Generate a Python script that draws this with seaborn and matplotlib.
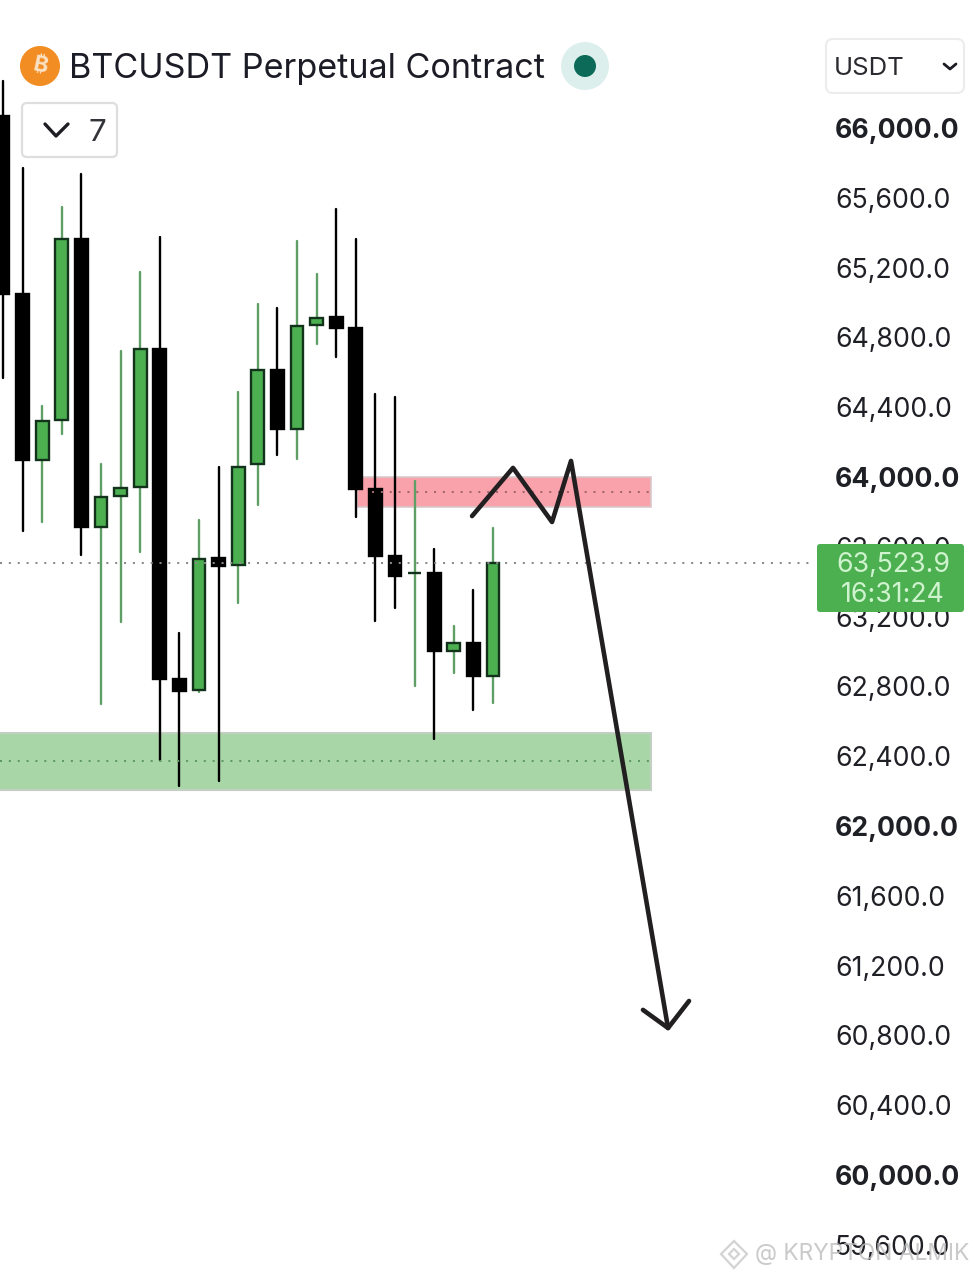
import matplotlib
matplotlib.use("Agg")
import matplotlib.pyplot as plt
from matplotlib.patches import Circle, FancyBboxPatch, Polygon
import pandas as pd
import seaborn as sns

# candles
open_ = [66069, 65049, 64097, 64327, 65364, 63713, 63891, 63943, 64734, 62842, 62779, 63536, 63496,
         64075, 64613, 64275, 64871, 64917, 64854, 63931, 63547, 63447, 63450, 63003, 63049, 62860]
close = [65049, 64097, 64321, 65364, 63713, 63885, 63937, 64734, 62842, 62774, 63530, 63490, 64057,
         64613, 64275, 64865, 64911, 64854, 63931, 63547, 63433, 63450, 63003, 63049, 62860, 63507]
high = [66269, 65771, 64407, 65547, 65736, 64075, 64722, 65175, 65375, 63106, 63754, 64057, 64487,
        64991, 64968, 65352, 65163, 65536, 65364, 64476, 64458, 63977, 63587, 63146, 63352, 63708]
low = [64567, 63691, 63742, 64246, 63553, 62699, 63169, 63570, 62378, 62229, 62768, 62258, 63278,
       63840, 64126, 64103, 64762, 64688, 63771, 63175, 63249, 62802, 62498, 62877, 62665, 62705]

tick_prices = [66000, 65600, 65200, 64800, 64400, 64000, 63600, 63200, 62800,
               62400, 62000, 61600, 61200, 60800, 60400, 60000, 59600]
tick_labels = ["66,000.0", "65,600.0", "65,200.0", "64,800.0", "64,400.0", "64,000.0",
               "63,600.0", "63,200.0", "62,800.0", "62,400.0", "62,000.0", "61,600.0",
               "61,200.0", "60,800.0", "60,400.0", "60,000.0", "59,600.0"]
bold_ticks = [66000, 64000, 62000, 60000]

last_line = 63507
red_zone = (63828, 64000, 63914)
green_zone = (62206, 62533, 62372)

# hand drawn path and arrow head
path_x = [23.93, 26.02, 28.01, 28.98, 33.93]
path_y = [63776, 64052, 63742, 64092, 60842]
head_x = [32.65, 33.93, 35.0]
head_y = [60946, 60842, 60997]

GREEN = "#4caf50"
GREEN_EDGE = "#12321b"
GREEN_WICK = "#5f9f66"
DOTS = (0, (1, 3.4))

sns.set_theme(style="white")
plt.rcParams["font.family"] = ["Inter", "DejaVu Sans"]

df = pd.DataFrame({"idx": range(len(open_)), "open": open_, "close": close, "high": high, "low": low})
df["up"] = df["close"] > df["open"]
df["bottom"] = df[["open", "close"]].min(axis=1)
df["height"] = (df["close"] - df["open"]).abs()
wicks = df.melt(id_vars=["idx", "up"], value_vars=["high", "low"], value_name="price").sort_values("idx")

fig = plt.figure(figsize=(9.75, 12.8), dpi=100)
ax = fig.add_axes([0, 0, 1, 1])

# zones
ax.axhspan(red_zone[0], red_zone[1], xmin=357 / 975, xmax=651 / 975, facecolor="#f9a2ac", edgecolor="#d8c8ca", lw=1.2, zorder=0.5)
ax.axhspan(green_zone[0], green_zone[1], xmin=-0.01, xmax=651 / 975, facecolor="#a9d6a7", edgecolor="#c4cfc4", lw=1.5, zorder=0.5)

sns.lineplot(data=wicks[wicks["up"]], x="idx", y="price", units="idx", estimator=None,
             color=GREEN_WICK, lw=1.7, ax=ax, zorder=1)
sns.lineplot(data=wicks[~wicks["up"]], x="idx", y="price", units="idx", estimator=None,
             color="black", lw=1.7, ax=ax, zorder=1)

up = df[df["up"]]
down = df[~df["up"]]
sns.barplot(data=up, x="idx", y="height", bottom=up["bottom"].values, native_scale=True, width=0.65,
            color=GREEN, saturation=1, edgecolor=GREEN_EDGE, linewidth=1.7, errorbar=None, ax=ax, zorder=1.5)
sns.barplot(data=down, x="idx", y="height", bottom=down["bottom"].values, native_scale=True, width=0.65,
            color="black", saturation=1, edgecolor="black", linewidth=1.7, errorbar=None, ax=ax, zorder=1.5)

# dotted levels
ax.axhline(last_line, xmin=0, xmax=812 / 975, color="#8a8a8a", lw=1.45, ls=DOTS, zorder=2.2)
ax.axhline(red_zone[2], xmin=372 / 975, xmax=651 / 975, color="#a2666e", lw=1.45, ls=DOTS, zorder=2.2)
ax.axhline(green_zone[2], xmin=0, xmax=651 / 975, color="#5f9a62", lw=1.45, ls=DOTS, zorder=2.2)

sns.lineplot(x=path_x, y=path_y, sort=False, estimator=None, color="#211f1f", lw=3.3, ax=ax, zorder=2.6,
             solid_joinstyle="round", solid_capstyle="round")
sns.lineplot(x=head_x, y=head_y, sort=False, estimator=None, color="#211f1f", lw=3.3, ax=ax, zorder=2.6,
             solid_joinstyle="round", solid_capstyle="round")

ax.set_xlim(-0.153, 49.59)
ax.set_ylim(59398, 66733.5)
ax.set(xlabel="", ylabel="")
ax.set_xticks([])
ax.set_yticks(tick_prices)
ax.set_yticklabels(tick_labels)
ax.yaxis.tick_right()
ax.tick_params(axis="y", length=0, pad=-100.8, labelsize=19.2, labelcolor="#1f2026")
for lab, p in zip(ax.get_yticklabels(), tick_prices):
    lab.set_ha("left")
    if p in bold_ticks:
        lab.set_fontweight("bold")
sns.despine(ax=ax, left=True, right=True, top=True, bottom=True)

# header and price tag, in pixel coordinates
ui = fig.add_axes([0, 0, 1, 1], facecolor="none")
ui.set_xlim(0, 975)
ui.set_ylim(1280, 0)
ui.axis("off")

ui.add_patch(Circle((40, 66), 20, fc="#f28d24", ec="none"))
ui.text(40, 66, "₿", family=["Inter", "Noto Sans", "Open Sans", "Lato", "Roboto"], weight="bold", fontsize=16,
        color="#fbe3c6", rotation=-12, ha="center", va="center")
ui.text(69, 78, "BTCUSDT Perpetual Contract", fontsize=24.6, color="#1c1c26", va="baseline")
ui.add_patch(Circle((585, 66), 24, fc="#dcefec", ec="none"))
ui.add_patch(Circle((585, 66), 11, fc="#0b6b58", ec="none"))

ui.add_patch(FancyBboxPatch((22, 103), 95, 54, boxstyle="round,pad=0,rounding_size=5", fc="white", ec="#dedede", lw=1.6))
ui.plot([45, 56, 68], [124, 136, 124], color="#1c1c22", lw=2.4)
ui.text(97, 141, "7", fontsize=22.5, color="#33343a", ha="center", va="baseline")

ui.add_patch(FancyBboxPatch((826, 39), 138, 54, boxstyle="round,pad=0,rounding_size=7", fc="white", ec="#ececec", lw=1.5))
ui.text(834, 75, "USDT", fontsize=18.5, color="#2a2b30", va="baseline")
ui.plot([944, 950, 956], [64, 69, 64], color="#1c1c22", lw=2)

ui.add_patch(FancyBboxPatch((817, 544), 147, 68, boxstyle="round,pad=0,rounding_size=3", fc=GREEN, ec="none"))
ui.text(893, 572, "63,523.9", fontsize=19.2, color="#d0f3cf", ha="center", va="baseline")
ui.text(893, 602, "16:31:24", fontsize=19.2, color="#d0f3cf", ha="center", va="baseline")

# watermark
wm = "#c9c9c9"
ui.add_patch(Polygon([(734, 1241), (747, 1254), (734, 1268), (721, 1254)], closed=True, fc="none", ec=wm, lw=1.6, alpha=0.8))
ui.add_patch(Polygon([(734, 1249), (739, 1254), (734, 1259), (729, 1254)], closed=True, fc="none", ec=wm, lw=1.6, alpha=0.8))
ui.text(755, 1254, "@ KRYPTON ALMIK", fontsize=16.4, color="#bdbdbd", alpha=0.8, va="center")

fig.savefig("out.png", dpi=100)
